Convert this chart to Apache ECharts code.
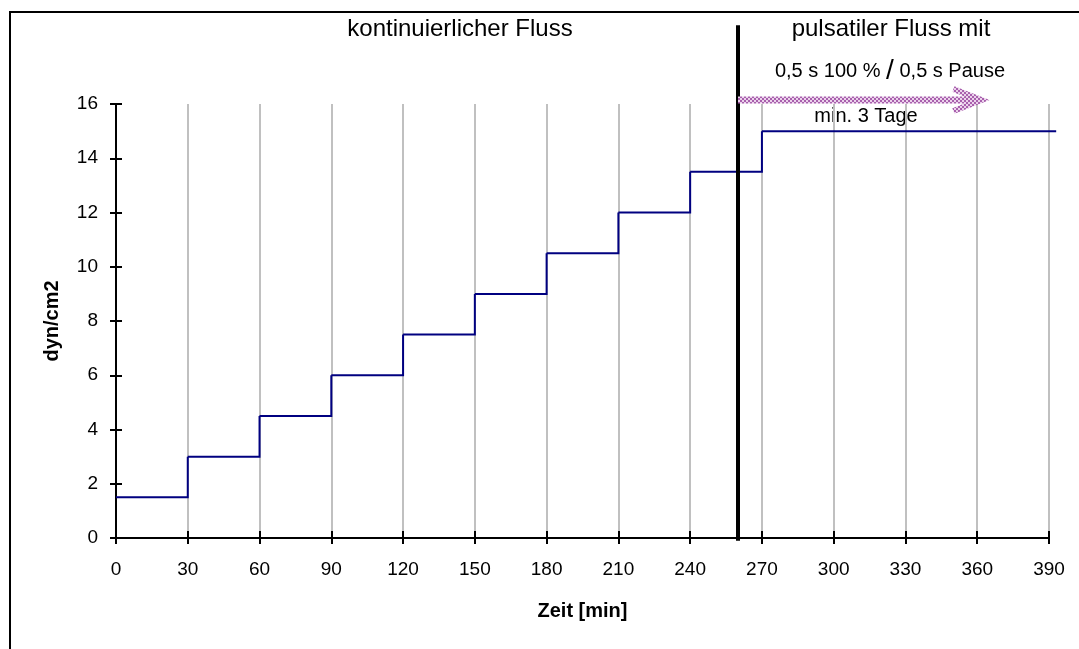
<!DOCTYPE html>
<html><head><meta charset="utf-8">
<script src="https://cdn.jsdelivr.net/npm/echarts@6/dist/echarts.min.js"></script>
<style>html,body{margin:0;padding:0;background:#fff}#c{width:1079px;height:649px}</style>
</head><body><div id="c"></div>
<script>
// Data
var times = [0, 30, 60, 90, 120, 150, 180, 210, 240, 270, 393];
var shearValues = [1.5, 3, 4.5, 6, 7.5, 9, 10.5, 12, 13.5, 15, 15];
var switchLine = [[260, -0.1, 18.9]];          // x, yFrom, yTo: continuous -> pulsatile
var arrowData = [[260, 363, 16.15]];           // xFrom, xTo, y
var xTicks = [0, 30, 60, 90, 120, 150, 180, 210, 240, 270, 300, 330, 360, 390];
var yTicks = [0, 2, 4, 6, 8, 10, 12, 14, 16];
var labelLeft = 'kontinuierlicher Fluss';
var labelRight1 = 'pulsatiler Fluss mit';
var labelRight2a = '0,5 s 100 % ', labelSlash = '/', labelRight2b = '0,5 s Pause';
var labelRight3 = 'min. 3 Tage';

var font = 'Liberation Sans, Arial, sans-serif';
var chart = echarts.init(document.getElementById('c'), null, {renderer: 'canvas'});

// step segments: [tStart, tEnd, value, nextValue]
var stepSegments = [];
for (var i = 0; i < times.length - 1; i++) {
  stepSegments.push([times[i], times[i + 1], shearValues[i], shearValues[i + 1]]);
}

// hatched pattern for the arrow
var pc = document.createElement('canvas');
pc.width = 4; pc.height = 4;
var pctx = pc.getContext('2d');
pctx.fillStyle = '#ebd2eb'; pctx.fillRect(0, 0, 4, 4);
pctx.fillStyle = '#a860ad';
pctx.fillRect(0, 0, 2, 2); pctx.fillRect(2, 2, 2, 2);
var hatch = {image: pc, repeat: 'repeat'};

var baseX = {type: 'value', min: xTicks[0], max: xTicks[xTicks.length - 1], interval: 30};
var baseY = {type: 'value', min: yTicks[0], max: yTicks[yTicks.length - 1], interval: 2};

chart.setOption({
  animation: false,
  grid: {left: 116, right: 30, top: 104, bottom: 111},
  xAxis: [
    Object.assign({}, baseX, {
      name: 'Zeit [min]', nameLocation: 'middle', nameGap: 63,
      nameTextStyle: {fontFamily: font, fontSize: 20, fontWeight: 'bold', color: '#000'},
      axisLine: {lineStyle: {color: '#000', width: 2}},
      axisTick: {show: true, inside: false, length: 6, lineStyle: {color: '#000', width: 2}},
      axisLabel: {fontFamily: font, fontSize: 19, color: '#000', margin: 22},
      splitLine: {show: true, lineStyle: {color: '#c0c0c0', width: 2}}
    }),
    Object.assign({}, baseX, {
      position: 'bottom',
      axisLine: {show: false},
      axisTick: {show: true, inside: true, length: 7, lineStyle: {color: '#000', width: 2}},
      axisLabel: {show: false}, splitLine: {show: false}
    })
  ],
  yAxis: [
    Object.assign({}, baseY, {
      name: 'dyn/cm2', nameLocation: 'middle', nameGap: 54, nameRotate: 90,
      nameTextStyle: {fontFamily: font, fontSize: 20, fontWeight: 'bold', color: '#000'},
      axisLine: {show: true, lineStyle: {color: '#000', width: 2}},
      axisTick: {show: true, inside: false, length: 6, lineStyle: {color: '#000', width: 2}},
      axisLabel: {fontFamily: font, fontSize: 19, color: '#000', margin: 18},
      splitLine: {show: false}
    }),
    Object.assign({}, baseY, {
      position: 'left',
      axisLine: {show: false},
      axisTick: {show: true, inside: true, length: 6, lineStyle: {color: '#000', width: 2}},
      axisLabel: {show: false}, splitLine: {show: false}
    })
  ],
  series: [
    {
      type: 'custom', data: stepSegments, clip: false, z: 3,
      renderItem: function (params, api) {
        var p0 = api.coord([api.value(0), api.value(2)]);
        var p1 = api.coord([api.value(1), api.value(2)]);
        var p2 = api.coord([api.value(1), api.value(3)]);
        return {type: 'polyline', shape: {points: [p0, p1, p2]},
                style: {stroke: '#000080', lineWidth: 2, fill: null}};
      }
    },
    {
      type: 'custom', data: switchLine, clip: false, z: 5,
      renderItem: function (params, api) {
        var p0 = api.coord([api.value(0), api.value(1)]);
        var p1 = api.coord([api.value(0), api.value(2)]);
        return {type: 'line', shape: {x1: p0[0], y1: p0[1], x2: p1[0], y2: p1[1]},
                style: {stroke: '#000', lineWidth: 4}};
      }
    },
    {
      type: 'custom', data: arrowData, clip: false, z: 6,
      renderItem: function (params, api) {
        var a = api.coord([api.value(0), api.value(2)]);
        var b = api.coord([api.value(1), api.value(2)]);
        var y = a[1], x0 = a[0], tip = b[0];
        return {type: 'group', children: [
          {type: 'rect', shape: {x: x0, y: y - 3.5, width: tip - x0 - 6, height: 7},
           style: {fill: hatch}},
          {type: 'polyline', shape: {points: [[tip - 31, y - 11], [tip - 3, y], [tip - 31, y + 11]]},
           style: {stroke: hatch, lineWidth: 6, fill: null, lineJoin: 'miter'}}
        ]};
      }
    }
  ],
  graphic: [
    {type: 'polyline', shape: {points: [[10, 649], [10, 12], [1079, 12]]},
     style: {stroke: '#000', lineWidth: 2, fill: null}},
    {type: 'text', x: 460, y: 29, style: {text: labelLeft, font: '24px ' + font, fill: '#000', align: 'center', verticalAlign: 'middle'}},
    {type: 'text', x: 891, y: 29, style: {text: labelRight1, font: '24px ' + font, fill: '#000', align: 'center', verticalAlign: 'middle'}},
    {type: 'text', x: 890, y: 71, style: {
      text: '{a|' + labelRight2a + '}{s|' + labelSlash + '}{a| ' + labelRight2b + '}',
      align: 'center', verticalAlign: 'middle',
      rich: {a: {fontFamily: font, fontSize: 20, color: '#000'},
             s: {fontFamily: font, fontSize: 28, color: '#000'}}
    }},
    {type: 'text', x: 866, y: 116, style: {text: labelRight3, font: '20px ' + font, fill: '#000', align: 'center', verticalAlign: 'middle'}}
  ]
});
</script></body></html>
